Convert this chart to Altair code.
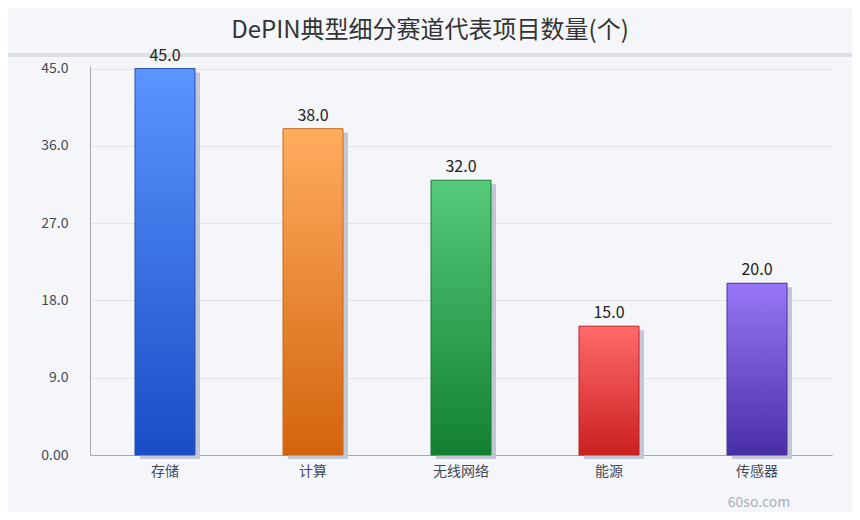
import altair as alt
import pandas as pd

# ---- data ----
categories = ["存储", "计算", "无线网络", "能源", "传感器"]
values = [45.0, 38.0, 32.0, 15.0, 20.0]
y_ticks = [0, 9, 18, 27, 36, 45]
title_text = "DePIN典型细分赛道代表项目数量(个)"
watermark = "60so.com"

# ---- styles ----
top_colors = ["#5b95ff", "#ffac5f", "#56ca7b", "#ff6a6a", "#9777f7"]
bottom_colors = ["#1a4cc6", "#d3640d", "#128030", "#cb2020", "#4a2ea6"]
stroke_colors = ["#2a4fb5", "#c66a1e", "#1a7a32", "#bf2222", "#4a309a"]
FONT = "Noto Sans CJK SC"

df = pd.DataFrame({"category": categories, "value": values})

x_enc = alt.X(
    "category:N",
    sort=categories,
    scale=alt.Scale(paddingInner=0.5946, paddingOuter=0.304),
    axis=alt.Axis(
        title=None, labelAngle=0, labelFontSize=14, labelColor="#444a55",
        labelPadding=9, ticks=False, domainColor="#a3a7b3", grid=False,
        labelFont=FONT,
    ),
)
y_enc = alt.Y(
    "value:Q",
    scale=alt.Scale(domain=[0, 45.3], nice=False, zero=True),
    axis=alt.Axis(
        values=y_ticks, title=None,
        labelExpr="datum.value == 0 ? '0.00' : format(datum.value, '.1f')",
        ticks=False, labelPadding=22, gridColor="#e1e4ea", domainColor="#a3a7b3",
        labelFontSize=14, labelColor="#444a55", labelFont=FONT,
    ),
)

base = alt.Chart(df)

one = alt.Data(values=[{"t": title_text, "w": watermark}])

sep = alt.Chart(one).mark_rule(color="#dcdfe6", strokeWidth=4).encode(
    x=alt.value(-90), x2=alt.value(780), y=alt.value(-11)
)

shadow = base.mark_bar(color="#c3c7d5", xOffset=5, yOffset=4).encode(x=x_enc, y=y_enc)

bar_layers = []
for i, cat in enumerate(categories):
    grad = alt.Gradient(
        gradient="linear",
        stops=[alt.GradientStop(color=top_colors[i], offset=0),
               alt.GradientStop(color=bottom_colors[i], offset=1)],
        x1=0, x2=0, y1=0, y2=1,
    )
    bar_layers.append(
        base.transform_filter(alt.datum.category == cat)
        .mark_bar(color=grad, stroke=stroke_colors[i], strokeWidth=1)
        .encode(x=x_enc, y=y_enc)
    )

labels = base.mark_text(
    dy=-8, baseline="alphabetic", fontSize=16, color="#222222", font=FONT
).encode(x=x_enc, y=y_enc, text=alt.Text("value:Q", format=".1f"))

title = alt.Chart(one).mark_text(
    fontSize=24, color="#333333", font=FONT, align="center", baseline="middle"
).encode(x=alt.value(340), y=alt.value(-35), text="t:N")

wm = alt.Chart(one).mark_text(
    fontSize=14, color="#a9afba", font=FONT, align="center", baseline="middle"
).encode(x=alt.value(669), y=alt.value(437), text="w:N")

chart = alt.layer(sep, shadow, *bar_layers, labels, title, wm).properties(
    width=742, height=389,
    autosize=alt.AutoSizeParams(type="none"),
    padding={"left": 82, "top": 58, "right": 20, "bottom": 57},
    background="#f4f6fa",
).configure_view(stroke=None)

chart.save("out.html", embed_options={"renderer": "svg", "actions": False})
